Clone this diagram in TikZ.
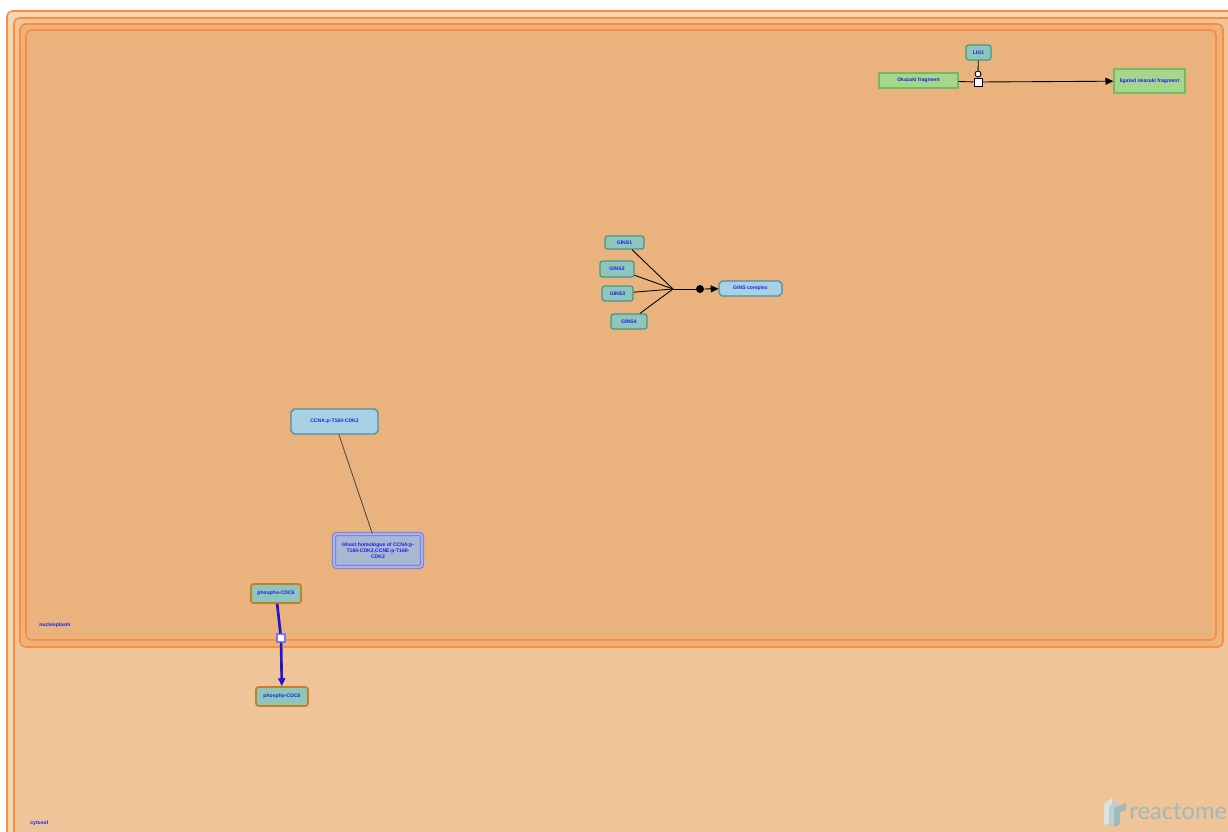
\documentclass[tikz,border=0pt]{standalone}
\usepackage{fontspec}
\setmainfont{Liberation Sans}
\newfontfamily\logofont{Lato}
\usetikzlibrary{arrows.meta}
\definecolor{cytoband}{RGB}{244,214,182}
\definecolor{cytofill}{RGB}{238,196,152}
\definecolor{nucfill}{RGB}{234,179,126}
\definecolor{compline}{RGB}{255,140,60}
\definecolor{protfill}{RGB}{142,198,188}
\definecolor{protline}{RGB}{72,150,136}
\definecolor{chemfill}{RGB}{164,214,140}
\definecolor{chemline}{RGB}{118,184,100}
\definecolor{cplxfill}{RGB}{168,210,228}
\definecolor{cplxline}{RGB}{72,140,176}
\definecolor{labelblue}{RGB}{30,30,235}
\definecolor{cdcline}{RGB}{196,128,40}
\definecolor{ghostfill}{RGB}{168,184,208}
\definecolor{ghostline}{RGB}{120,120,255}
\definecolor{rxnblue}{RGB}{30,20,210}
\definecolor{logogrey}{RGB}{160,186,188}
\tikzset{mycomp/.style={draw=compline,line width=0.9pt,rounded corners=3pt}}
\tikzset{mylabel/.style={font=\fontsize{2.9}{3.5}\selectfont\bfseries,text=labelblue,inner sep=0pt,align=center}}
\tikzset{myprot/.style={mylabel,draw=protline,fill=protfill,line width=0.7pt,rounded corners=1.5pt}}
\tikzset{mychem/.style={mylabel,draw=chemline,fill=chemfill,line width=0.7pt}}
\tikzset{mycplx/.style={draw=cplxline,fill=cplxfill,line width=0.7pt}}
\tikzset{mydraw/.style={draw=black,line width=0.5pt}}
\tikzset{mytip/.style={-{Triangle[length=4.5pt,width=4pt]}}}
\tikzset{myrxn/.style={draw,fill=white,minimum size=0.16cm,inner sep=0pt}}
% complex box with cut corners: name, x, y, width, height, text (pixels)
\newcommand{\cplxnode}[6]{%
	\draw[mycplx] ({#2-#4/2+3},{#3-#5/2}) -- ({#2+#4/2-3},{#3-#5/2}) -- ({#2+#4/2},{#3-#5/2+3})
		-- ({#2+#4/2},{#3+#5/2-3}) -- ({#2+#4/2-3},{#3+#5/2}) -- ({#2-#4/2+3},{#3+#5/2})
		-- ({#2-#4/2},{#3+#5/2-3}) -- ({#2-#4/2},{#3-#5/2+3}) -- cycle;
	\node[mylabel,minimum width={#4*0.02cm},minimum height={#5*0.02cm}] (#1) at (#2,#3) {#6};}

\begin{document}
\begin{tikzpicture}[x=0.02cm,y=-0.02cm]
	\useasboundingbox (0,0) rectangle (1228,832);
	\clip (0,0) rectangle (1228,832);

	% compartments
	\draw[mycomp,fill=cytoband] (7,11) rectangle (1250,860);
	\draw[mycomp,fill=cytofill] (14,18) rectangle (1250,860);
	\draw[mycomp,fill=nucfill] (20,24) rectangle (1223,647);
	\draw[mycomp,fill=nucfill] (26,30) rectangle (1216,640);
	\node[mylabel,anchor=west] (nuc) at (39,625) {nucleoplasm};
	\node[mylabel,anchor=west] (cyto) at (30,823) {cytosol};

	% ligation of Okazaki fragments
	\node[myprot,minimum width=0.5cm,minimum height=0.3cm] (lig1) at (978.5,52.5) {LIG1};
	\node[mychem,minimum width=1.58cm,minimum height=0.3cm] (okazaki) at (918.5,80.5) {Okazaki fragment};
	\node[mychem,minimum width=1.42cm,minimum height=0.48cm] (ligated) at (1149.5,81) {ligated okazaki fragment};
	\node[myrxn,mydraw] (rxa) at (978,82) {};
	\node[circle,mydraw,fill=white,minimum size=0.12cm,inner sep=0pt] (cata) at (978,74) {};
	\draw[mydraw] (lig1) -- (cata);
	\draw[mydraw] (okazaki) -- (rxa);
	\draw[mydraw,mytip] (rxa) -- (ligated);

	% GINS complex formation
	\node[myprot,minimum width=0.78cm,minimum height=0.26cm] (gins1) at (624.5,242.5) {GINS1};
	\node[myprot,minimum width=0.68cm,minimum height=0.32cm] (gins2) at (617,269) {GINS2};
	\node[myprot,minimum width=0.62cm,minimum height=0.3cm] (gins3) at (617.5,293.5) {GINS3};
	\node[myprot,minimum width=0.72cm,minimum height=0.3cm] (gins4) at (629,321.5) {GINS4};
	\cplxnode{ginsc}{750.5}{288.5}{63}{15}{GINS complex}
	\coordinate (gj) at (673,289);
	\node[circle,fill=black,minimum size=0.16cm,inner sep=0pt] (rxb) at (700,289) {};
	\foreach \g in {gins1,gins2,gins3,gins4}
		\draw[mydraw] (\g) -- (gj);
	\draw[mydraw] (gj) -- (rxb);
	\draw[mydraw,mytip] (rxb) -- (ginsc);

	% ghost homologue
	\cplxnode{ccna}{334.5}{421.5}{87}{25}{CCNA:p-T160-CDK2}
	\node[mylabel,draw=ghostline,double=ghostfill,double distance=1.2pt,fill=ghostfill,line width=0.6pt,rounded corners=1.5pt,minimum width=1.76cm,minimum height=0.66cm] (ghost) at (378,550.5) {Ghost homologue of CCNA:p-\\T160-CDK2,CCNE:p-T160-\\CDK2};
	\draw[black!70,line width=0.5pt] (ccna) -- (ghost);

	% CDC6 transport
	\node[myprot,draw=cdcline,line width=1pt,minimum width=1cm,minimum height=0.38cm] (cdc6a) at (276,593.5) {phospho-CDC6};
	\node[myprot,draw=cdcline,line width=1pt,minimum width=1.04cm,minimum height=0.38cm] (cdc6b) at (282,696.5) {phospho-CDC6};
	\node[myrxn,draw=ghostline,line width=0.7pt] (rxc) at (281,638) {};
	\draw[rxnblue,line width=1.5pt] (cdc6a) -- (rxc);
	\draw[rxnblue,line width=1.5pt,-{Triangle[length=4.5pt,width=4pt]}] (rxc) -- (cdc6b);

	% logo
	\fill[logogrey!40] (1104,804) -- (1112,798) -- (1112,820) -- (1104,826) -- cycle;
	\fill[logogrey!70] (1109,806) -- (1118,800) -- (1118,822) -- (1109,828) -- cycle;
	\fill[logogrey] (1114,808) -- (1126,803) -- (1126,810) -- (1120,812) -- (1120,824) -- (1114,827) -- cycle;
	\node[font=\logofont\fontsize{13.5}{14}\selectfont,text=logogrey,anchor=west,inner sep=0pt] (logo) at (1129,812) {reactome};
\end{tikzpicture}
\end{document}
